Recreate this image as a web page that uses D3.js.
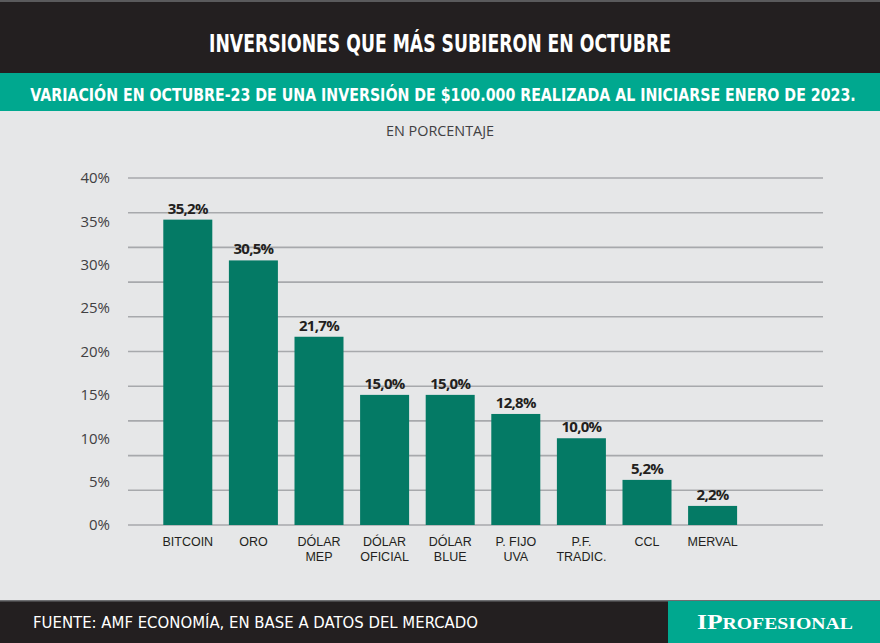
<!DOCTYPE html>
<html lang="es">
<head>
    <meta charset="utf-8">
    <title>Inversiones que más subieron en octubre</title>
    <script src="https://d3js.org/d3.v7.min.js" charset="utf-8"></script>
    <style type="text/css">
        body { margin: 0; background: #e6e7e8; }
        .cond { font-family: "Liberation Sans Narrow", "DejaVu Sans Condensed", "Open Sans", sans-serif; font-stretch: condensed; }
        .lbl { font-family: "Open Sans", "Noto Sans", sans-serif; }
        .cat { font-family: "Liberation Sans", Arial, sans-serif; }
    </style>
</head>
<body>
<script type="text/javascript">
// data
var categories = ["BITCOIN", "ORO", "DÓLAR MEP", "DÓLAR OFICIAL", "DÓLAR BLUE", "P. FIJO UVA", "P.F. TRADIC.", "CCL", "MERVAL"];
var catLines = [["BITCOIN"], ["ORO"], ["DÓLAR", "MEP"], ["DÓLAR", "OFICIAL"], ["DÓLAR", "BLUE"], ["P. FIJO", "UVA"], ["P.F.", "TRADIC."], ["CCL"], ["MERVAL"]];
var values = [35.2, 30.5, 21.7, 15.0, 15.0, 12.8, 10.0, 5.2, 2.2];
var valueLabels = ["35,2%", "30,5%", "21,7%", "15,0%", "15,0%", "12,8%", "10,0%", "5,2%", "2,2%"];
var yTicks = [0, 5, 10, 15, 20, 25, 30, 35, 40];
var gridTicks = [0, 4, 8, 12, 16, 20, 24, 28, 32, 36, 40];

var W = 880, H = 643;
var dark = "#231f20", teal = "#00a88f", barColor = "#047a65";

var svg = d3.select("body").append("svg")
    .attr("width", W)
    .attr("height", H);

svg.append("rect").attr("width", W).attr("height", H).attr("fill", "#e6e7e8");

// header
svg.append("rect").attr("x", 0).attr("y", 0).attr("width", W).attr("height", 73).attr("fill", dark);
svg.append("rect").attr("x", 0).attr("y", 0).attr("width", W).attr("height", 2).attr("fill", "#5a5a5c");
svg.append("text").attr("class", "cond")
    .attr("x", W / 2).attr("y", 52)
    .attr("text-anchor", "middle")
    .attr("fill", "#fff").attr("font-size", 24).attr("font-weight", "bold")
    .attr("textLength", 462).attr("lengthAdjust", "spacingAndGlyphs")
    .text("INVERSIONES QUE MÁS SUBIERON EN OCTUBRE");

svg.append("rect").attr("x", 0).attr("y", 73).attr("width", W).attr("height", 38).attr("fill", teal);
// condensed by a horizontal scale so the line fits 30..856
var sub = svg.append("g").attr("transform", "translate(443,101)");
var subText = sub.append("text").attr("class", "cond")
    .attr("text-anchor", "middle")
    .attr("fill", "#fff").attr("font-size", 18).attr("font-weight", "bold")
    .text("VARIACIÓN EN OCTUBRE-23 DE UNA INVERSIÓN DE $100.000 REALIZADA AL INICIARSE ENERO DE 2023.");
var subW = subText.node().getComputedTextLength();
sub.attr("transform", "translate(443,101) scale(" + (826 / subW) + ",1)");

svg.append("text").attr("class", "lbl")
    .attr("x", 440).attr("y", 136)
    .attr("text-anchor", "middle")
    .attr("fill", "#414042").attr("font-size", 14)
    .attr("textLength", 108).attr("lengthAdjust", "spacingAndGlyphs")
    .text("EN PORCENTAJE");

// scales
var x = d3.scaleBand()
    .domain(categories)
    .range([155, 745.4])
    .paddingInner(0.253)
    .paddingOuter(0.1265);
var y = d3.scaleLinear()
    .domain([0, 40])
    .range([525, 178]);

// gridlines
svg.append("g")
    .selectAll("line")
    .data(gridTicks)
    .enter()
    .append("line")
    .attr("x1", 128).attr("x2", 823)
    .attr("y1", function (d) { return y(d); })
    .attr("y2", function (d) { return y(d); })
    .attr("stroke", "#a7a9ac")
    .attr("stroke-width", 1.6);

// y labels
svg.append("g")
    .selectAll("text")
    .data(yTicks)
    .enter()
    .append("text")
    .attr("class", "lbl")
    .attr("x", 110)
    .attr("y", function (d) { return y(d); })
    .attr("dy", "0.35em")
    .attr("text-anchor", "end")
    .attr("fill", "#414042")
    .attr("font-size", 15)
    .text(function (d) { return d + "%"; });

// bars
svg.append("g")
    .selectAll("rect")
    .data(values)
    .enter()
    .append("rect")
    .attr("x", function (d, i) { return x(categories[i]); })
    .attr("y", function (d) { return y(d); })
    .attr("width", x.bandwidth())
    .attr("height", function (d) { return y(0) - y(d); })
    .attr("fill", barColor);

// value labels
svg.append("g")
    .selectAll("text")
    .data(values)
    .enter()
    .append("text")
    .attr("class", "lbl")
    .attr("x", function (d, i) { return x(categories[i]) + x.bandwidth() / 2; })
    .attr("y", function (d) { return y(d) - 6; })
    .attr("text-anchor", "middle")
    .attr("fill", dark)
    .attr("font-size", 15)
    .attr("font-weight", "bold")
    .attr("letter-spacing", -0.7)
    .text(function (d, i) { return valueLabels[i]; });

// category labels, one text per line
var catG = svg.append("g")
    .selectAll("g")
    .data(catLines)
    .enter()
    .append("g")
    .attr("transform", function (d, i) {
        return "translate(" + (x(categories[i]) + x.bandwidth() / 2) + ",0)";
    });
catG.selectAll("text")
    .data(function (d) { return d; })
    .enter()
    .append("text")
    .attr("class", "cat")
    .attr("y", function (d, i) { return 546 + i * 15; })
    .attr("text-anchor", "middle")
    .attr("fill", dark)
    .attr("font-size", 12.5)
    .text(function (d) { return d; });

// footer
svg.append("rect").attr("x", 0).attr("y", 600).attr("width", W).attr("height", 43).attr("fill", dark);
svg.append("rect").attr("x", 0).attr("y", 600).attr("width", W).attr("height", 1.5).attr("fill", "#6d6e71");
svg.append("text").attr("class", "cond")
    .attr("x", 33).attr("y", 628)
    .attr("fill", "#fff").attr("font-size", 15)
    .attr("textLength", 445).attr("lengthAdjust", "spacingAndGlyphs")
    .text("FUENTE: AMF ECONOMÍA, EN BASE A DATOS DEL MERCADO");

svg.append("rect").attr("x", 668).attr("y", 601).attr("width", W - 668).attr("height", 42).attr("fill", teal);
var logo = svg.append("text")
    .attr("x", 775).attr("y", 629)
    .attr("text-anchor", "middle")
    .attr("fill", "#fff")
    .attr("font-family", "'Liberation Serif', 'DejaVu Serif', serif")
    .attr("font-weight", "bold")
    .attr("textLength", 156).attr("lengthAdjust", "spacingAndGlyphs");
logo.append("tspan").attr("font-size", 22).text("IP");
logo.append("tspan").attr("font-size", 17).text("ROFESIONAL");
</script>
</body>
</html>
